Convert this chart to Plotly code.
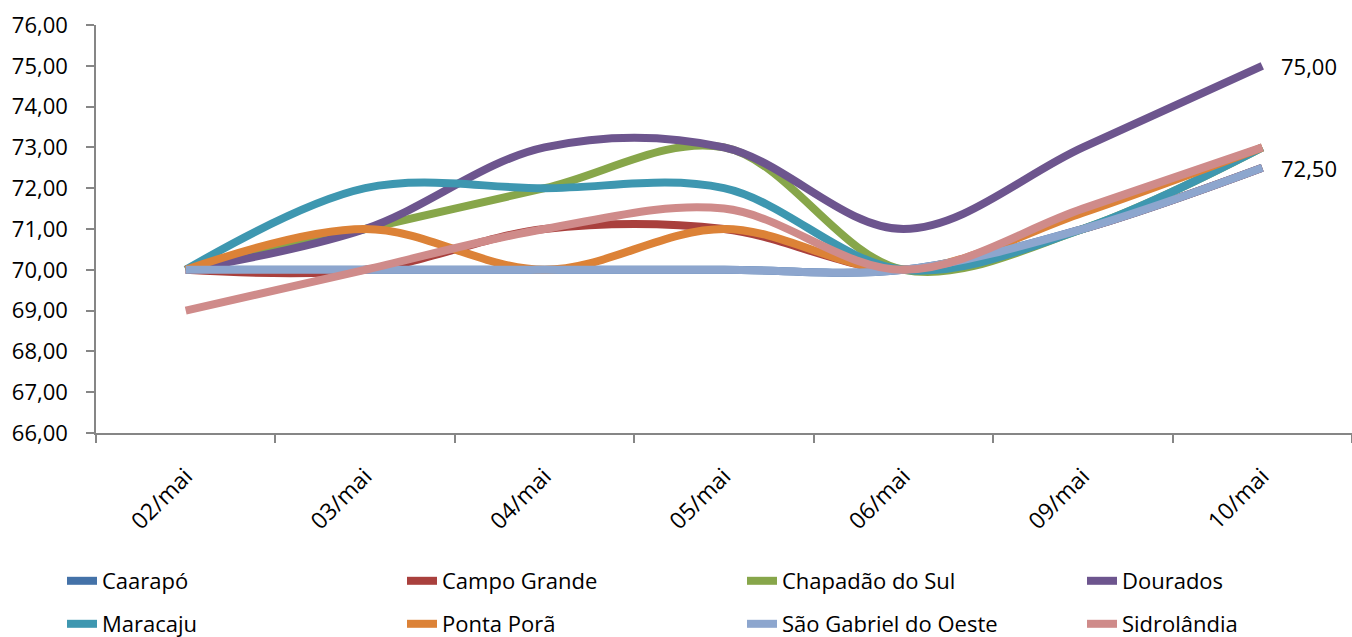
import plotly.graph_objects as go

# Categories (trading days) and price series per city
dates = ["02/mai", "03/mai", "04/mai", "05/mai", "06/mai", "09/mai", "10/mai"]

caarapo = [70.0, 70.0, 70.0, 70.0, 70.0, 71.0, 72.5]
campo_grande = [70.0, 70.0, 71.0, 71.0, 70.0, 71.0, 72.5]
chapadao_do_sul = [70.0, 71.0, 72.0, 73.0, 70.0, 71.0, 73.0]
dourados = [70.0, 71.0, 73.0, 73.0, 71.0, 73.0, 75.0]
maracaju = [70.0, 72.0, 72.0, 72.0, 70.0, 71.0, 73.0]
ponta_pora = [70.0, 71.0, 70.0, 71.0, 70.0, 71.4, 73.0]
sao_gabriel_do_oeste = [70.0, 70.0, 70.0, 70.0, 70.0, 71.0, 72.5]
sidrolandia = [69.0, 70.0, 71.0, 71.5, 70.0, 71.5, 73.0]

series = [
    ("Caarapó", caarapo, "#4472A8"),
    ("Campo Grande", campo_grande, "#A9403D"),
    ("Chapadão do Sul", chapadao_do_sul, "#87A64A"),
    ("Dourados", dourados, "#6D558E"),
    ("Maracaju", maracaju, "#3E97B0"),
    ("Ponta Porã", ponta_pora, "#DC8237"),
    ("São Gabriel do Oeste", sao_gabriel_do_oeste, "#8DA6CE"),
    ("Sidrolândia", sidrolandia, "#CF8B8A"),
]

# Series whose last value is labelled
labelled = {"Dourados", "São Gabriel do Oeste"}

FONT = "'Open Sans', 'Noto Sans', sans-serif"
W, H = 1352, 637

# Legend grid: 4 columns x 2 rows, one single-entry legend per cell
col_px = [62, 402, 742, 1082]
row_px = [581, 624]

fig = go.Figure()
annotations = []
legends = {}
for i, (name, vals, color) in enumerate(series):
    key = "legend" if i == 0 else f"legend{i + 1}"
    fig.add_trace(go.Scatter(
        x=dates, y=vals, name=name, mode="lines",
        line=dict(color=color, width=8, shape="spline", smoothing=1),
        cliponaxis=False,
        legend=key,
    ))
    legends[key] = dict(
        xref="container", yref="container",
        x=col_px[i % 4] / W, y=1 - row_px[i // 4] / H,
        xanchor="left", yanchor="middle",
        font=dict(family=FONT, size=22, color="#000000"),
        bgcolor="rgba(0,0,0,0)",
    )
    if name in labelled:
        annotations.append(dict(
            x=dates[-1], y=vals[-1], xref="x", yref="y",
            text=f"{vals[-1]:.2f}".replace(".", ","),
            showarrow=False, xanchor="left", yanchor="middle", xshift=17,
            font=dict(family=FONT, size=22, color="#000000"),
        ))

fig.update_layout(
    width=W, height=H,
    margin=dict(l=96, r=0, t=25, b=204, autoexpand=False),
    paper_bgcolor="white", plot_bgcolor="white",
    separators=",.",
    font=dict(family=FONT, size=22, color="#000000"),
    showlegend=True,
    annotations=annotations,
    **legends,
)

fig.update_xaxes(
    type="category", range=[-0.5, 6.5],
    showline=True, linecolor="#868686", linewidth=1.5,
    ticks="outside", ticklen=8, tickcolor="#868686", tickwidth=1.5,
    tickson="boundaries", showgrid=False, zeroline=False,
    tickangle=-45, ticklabelstandoff=19,
    tickfont=dict(family=FONT, size=23, color="#000000"),
)
fig.update_yaxes(
    range=[66, 76], dtick=1, tick0=66, tickformat=".2f",
    showline=True, linecolor="#868686", linewidth=1.5,
    ticks="outside", ticklen=8, tickcolor="#868686", tickwidth=1.5,
    showgrid=False, zeroline=False,
    ticklabelstandoff=14,
    tickfont=dict(family=FONT, size=22, color="#000000"),
)

fig.write_html("out.html")
